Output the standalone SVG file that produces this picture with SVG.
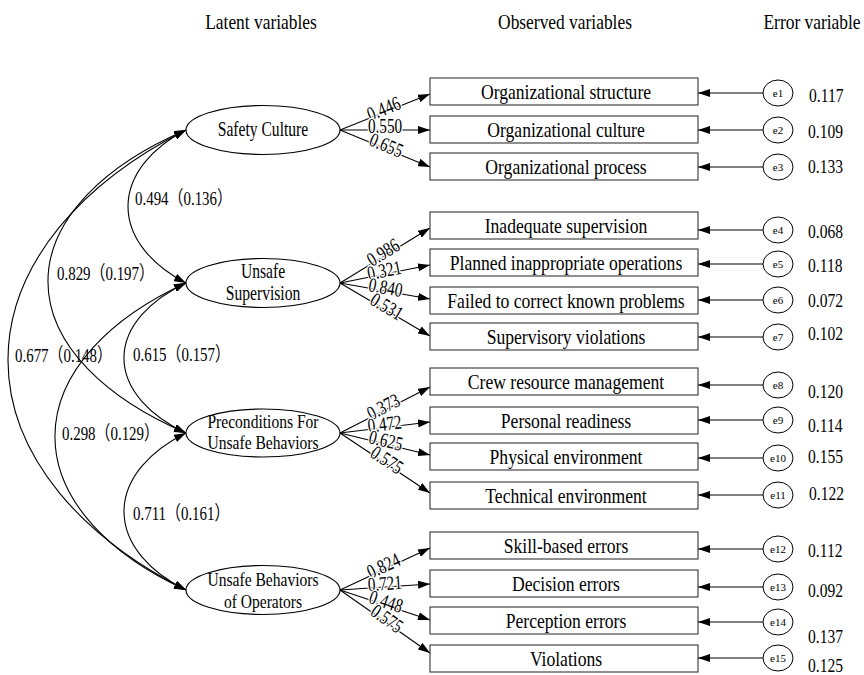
<svg xmlns="http://www.w3.org/2000/svg" width="864" height="675" viewBox="0 0 864 675">
<style>
text{font-family:"Liberation Serif","Times New Roman","Noto Sans CJK SC",serif;fill:#000}
.hd{font-size:21.5px;text-anchor:middle}
.bx{font-size:22px;text-anchor:middle}
.el{font-size:20px;text-anchor:middle}
.el2{font-size:19px;text-anchor:middle}
.ld{font-size:20px;text-anchor:middle;stroke:#fff;stroke-width:3;paint-order:stroke;stroke-linejoin:round}
.cv{font-size:19.5px}
.ev{font-size:19px}
.en{font-size:11px;text-anchor:middle}
.box{fill:#fff;stroke:#333;stroke-width:1.1}
.lat{fill:#fff;stroke:#000;stroke-width:1.1}
.err{fill:#fff;stroke:#000;stroke-width:1}
.c{fill:none;stroke:#000;stroke-width:1.1}
</style>
<defs>
<marker id="ah" viewBox="0 0 12 8" refX="12" refY="4" markerWidth="12" markerHeight="8" markerUnits="userSpaceOnUse" orient="auto-start-reverse"><path d="M0,0 L12,4 L0,8 z" fill="#000"/></marker>
</defs>
<g id="headers">
<text class="hd" transform="translate(261,29) scale(0.81,1)">Latent variables</text>
<text class="hd" transform="translate(565,29) scale(0.81,1)">Observed variables</text>
<text class="hd" transform="translate(812,29) scale(0.81,1)">Error variable</text>
</g>
<g id="connectors">
<path class="c" marker-start="url(#ah)" marker-end="url(#ah)" d="M186,130 A162.5,99.9 0 0 0 186,283"/>
<path class="c" marker-start="url(#ah)" marker-end="url(#ah)" d="M186,283 A173.7,97.9 0 0 0 186,433"/>
<path class="c" marker-start="url(#ah)" marker-end="url(#ah)" d="M186,433 A173.7,102.5 0 0 0 186,590"/>
<path class="c" marker-start="url(#ah)" marker-end="url(#ah)" d="M186,130 A386.6,197.8 0 0 0 186,433"/>
<path class="c" marker-start="url(#ah)" marker-end="url(#ah)" d="M186,283 A367,200.4 0 0 0 186,590"/>
<path class="c" marker-start="url(#ah)" marker-end="url(#ah)" d="M186,130 A498.6,300.3 0 0 0 186,590"/>
<g marker-end="url(#ah)">
<path class="c" d="M340,130 L430,94"/>
<path class="c" d="M340,130 L430,130"/>
<path class="c" d="M340,130 L430,167"/>
<path class="c" d="M340,283 L430,228"/>
<path class="c" d="M340,283 L430,265"/>
<path class="c" d="M340,283 L430,299"/>
<path class="c" d="M340,283 L430,336"/>
<path class="c" d="M340,433 L430,387"/>
<path class="c" d="M340,433 L430,422"/>
<path class="c" d="M340,433 L430,455"/>
<path class="c" d="M340,433 L430,493"/>
<path class="c" d="M340,590 L430,548"/>
<path class="c" d="M340,590 L430,584"/>
<path class="c" d="M340,590 L430,620"/>
<path class="c" d="M340,590 L430,653"/>
<path class="c" d="M763,93 L698,93"/>
<path class="c" d="M763,130 L698,130"/>
<path class="c" d="M763,167 L698,167"/>
<path class="c" d="M763,230 L698,230"/>
<path class="c" d="M763,264 L698,264"/>
<path class="c" d="M763,300 L698,300"/>
<path class="c" d="M763,337 L698,337"/>
<path class="c" d="M763,385 L698,385"/>
<path class="c" d="M763,420 L698,420"/>
<path class="c" d="M763,458 L698,458"/>
<path class="c" d="M763,495 L698,495"/>
<path class="c" d="M763,549 L698,549"/>
<path class="c" d="M763,587 L698,587"/>
<path class="c" d="M763,622 L698,622"/>
<path class="c" d="M763,658 L698,658"/>
</g>
<text class="ld" transform="translate(385,112) rotate(-21.8) scale(0.76,1)" y="3">0.446</text>
<text class="ld" transform="translate(385,130) scale(0.76,1)" y="3">0.550</text>
<text class="ld" transform="translate(385,148.5) rotate(22.3) scale(0.76,1)" y="3">0.655</text>
<text class="ld" transform="translate(385,255.5) rotate(-31.4) scale(0.76,1)" y="3">0.986</text>
<text class="ld" transform="translate(385,274) rotate(-11.3) scale(0.76,1)" y="3">0.321</text>
<text class="ld" transform="translate(385,291) rotate(10.1) scale(0.76,1)" y="3">0.840</text>
<text class="ld" transform="translate(385,309.5) rotate(30.5) scale(0.76,1)" y="3">0.531</text>
<text class="ld" transform="translate(385,410) rotate(-27.1) scale(0.76,1)" y="3">0.373</text>
<text class="ld" transform="translate(385,427.5) rotate(-7) scale(0.76,1)" y="3">0.472</text>
<text class="ld" transform="translate(385,444) rotate(13.7) scale(0.76,1)" y="3">0.625</text>
<text class="ld" transform="translate(385,463) rotate(33.7) scale(0.76,1)" y="3">0.575</text>
<text class="ld" transform="translate(385,569) rotate(-25) scale(0.76,1)" y="3">0.824</text>
<text class="ld" transform="translate(385,587) rotate(-3.8) scale(0.76,1)" y="3">0.721</text>
<text class="ld" transform="translate(385,605) rotate(18.4) scale(0.76,1)" y="3">0.448</text>
<text class="ld" transform="translate(385,621.5) rotate(35) scale(0.76,1)" y="3">0.575</text>
<text class="cv" transform="translate(135,204.5) scale(0.765,1)">0.494（0.136）</text>
<text class="cv" transform="translate(57,279.5) scale(0.765,1)">0.829（0.197）</text>
<text class="cv" transform="translate(15,361.5) scale(0.765,1)">0.677（0.148）</text>
<text class="cv" transform="translate(133,360.5) scale(0.765,1)">0.615（0.157）</text>
<text class="cv" transform="translate(62,439.5) scale(0.765,1)">0.298（0.129）</text>
<text class="cv" transform="translate(133,519.5) scale(0.765,1)">0.711（0.161）</text>
</g>
<g id="safety-culture">
<ellipse class="lat" cx="263" cy="130" rx="77" ry="24.5"/>
<text class="el" transform="translate(263,136) scale(0.78,1)">Safety Culture</text>
</g>
<g id="unsafe-supervision">
<ellipse class="lat" cx="263" cy="283" rx="77" ry="24.5"/>
<text class="el" transform="translate(263,278) scale(0.78,1)">Unsafe</text>
<text class="el" transform="translate(263,300) scale(0.78,1)">Supervision</text>
</g>
<g id="preconditions">
<ellipse class="lat" cx="263" cy="433" rx="77" ry="24"/>
<text class="el2" transform="translate(263,428) scale(0.82,1)">Preconditions For</text>
<text class="el2" transform="translate(263,449) scale(0.82,1)">Unsafe Behaviors</text>
</g>
<g id="unsafe-behaviors">
<ellipse class="lat" cx="263" cy="590" rx="77" ry="24.5"/>
<text class="el2" transform="translate(263,586) scale(0.82,1)">Unsafe Behaviors</text>
<text class="el2" transform="translate(263,608) scale(0.82,1)">of Operators</text>
</g>
<g id="obs1"><rect class="box" x="430" y="78" width="268" height="27"/><text class="bx" transform="translate(566,99) scale(0.8,1)">Organizational structure</text></g>
<g id="obs2"><rect class="box" x="430" y="116" width="268" height="27"/><text class="bx" transform="translate(566,137) scale(0.8,1)">Organizational culture</text></g>
<g id="obs3"><rect class="box" x="430" y="153" width="268" height="27"/><text class="bx" transform="translate(566,174) scale(0.8,1)">Organizational process</text></g>
<g id="obs4"><rect class="box" x="430" y="212" width="268" height="27"/><text class="bx" transform="translate(566,233) scale(0.8,1)">Inadequate supervision</text></g>
<g id="obs5"><rect class="box" x="430" y="249" width="268" height="27"/><text class="bx" transform="translate(566,270) scale(0.8,1)">Planned inappropriate operations</text></g>
<g id="obs6"><rect class="box" x="430" y="287" width="268" height="27"/><text class="bx" transform="translate(566,308) scale(0.8,1)">Failed to correct known problems</text></g>
<g id="obs7"><rect class="box" x="430" y="323" width="268" height="27"/><text class="bx" transform="translate(566,344) scale(0.8,1)">Supervisory violations</text></g>
<g id="obs8"><rect class="box" x="430" y="368" width="268" height="27"/><text class="bx" transform="translate(566,389) scale(0.8,1)">Crew resource management</text></g>
<g id="obs9"><rect class="box" x="430" y="407" width="268" height="27"/><text class="bx" transform="translate(566,428) scale(0.8,1)">Personal readiness</text></g>
<g id="obs10"><rect class="box" x="430" y="443" width="268" height="27"/><text class="bx" transform="translate(566,464) scale(0.8,1)">Physical environment</text></g>
<g id="obs11"><rect class="box" x="430" y="482" width="268" height="27"/><text class="bx" transform="translate(566,503) scale(0.8,1)">Technical environment</text></g>
<g id="obs12"><rect class="box" x="430" y="532" width="268" height="27"/><text class="bx" transform="translate(566,553) scale(0.8,1)">Skill-based errors</text></g>
<g id="obs13"><rect class="box" x="430" y="570" width="268" height="27"/><text class="bx" transform="translate(566,591) scale(0.8,1)">Decision errors</text></g>
<g id="obs14"><rect class="box" x="430" y="607" width="268" height="27"/><text class="bx" transform="translate(566,628) scale(0.8,1)">Perception errors</text></g>
<g id="obs15"><rect class="box" x="430" y="645" width="268" height="27"/><text class="bx" transform="translate(566,666) scale(0.8,1)">Violations</text></g>
<g id="e1"><ellipse class="err" cx="778" cy="93" rx="15" ry="13"/><text class="en" x="778" y="97">e1</text></g>
<g id="e2"><ellipse class="err" cx="778" cy="130" rx="15" ry="13"/><text class="en" x="778" y="134">e2</text></g>
<g id="e3"><ellipse class="err" cx="778" cy="167" rx="15" ry="13"/><text class="en" x="778" y="171">e3</text></g>
<g id="e4"><ellipse class="err" cx="778" cy="230" rx="15" ry="13"/><text class="en" x="778" y="234">e4</text></g>
<g id="e5"><ellipse class="err" cx="778" cy="264" rx="15" ry="13"/><text class="en" x="778" y="268">e5</text></g>
<g id="e6"><ellipse class="err" cx="778" cy="300" rx="15" ry="13"/><text class="en" x="778" y="304">e6</text></g>
<g id="e7"><ellipse class="err" cx="778" cy="337" rx="15" ry="13"/><text class="en" x="778" y="341">e7</text></g>
<g id="e8"><ellipse class="err" cx="778" cy="385" rx="15" ry="13"/><text class="en" x="778" y="389">e8</text></g>
<g id="e9"><ellipse class="err" cx="778" cy="420" rx="15" ry="13"/><text class="en" x="778" y="424">e9</text></g>
<g id="e10"><ellipse class="err" cx="778" cy="458" rx="15" ry="13"/><text class="en" x="778" y="462">e10</text></g>
<g id="e11"><ellipse class="err" cx="778" cy="495" rx="15" ry="13"/><text class="en" x="778" y="499">e11</text></g>
<g id="e12"><ellipse class="err" cx="778" cy="549" rx="15" ry="13"/><text class="en" x="778" y="553">e12</text></g>
<g id="e13"><ellipse class="err" cx="778" cy="587" rx="15" ry="13"/><text class="en" x="778" y="591">e13</text></g>
<g id="e14"><ellipse class="err" cx="778" cy="622" rx="15" ry="13"/><text class="en" x="778" y="626">e14</text></g>
<g id="e15"><ellipse class="err" cx="778" cy="658" rx="15" ry="13"/><text class="en" x="778" y="662">e15</text></g>
<g id="error-values">
<text class="ev" transform="translate(809,101.5) scale(0.82,1)">0.117</text>
<text class="ev" transform="translate(808,138) scale(0.82,1)">0.109</text>
<text class="ev" transform="translate(808,173) scale(0.82,1)">0.133</text>
<text class="ev" transform="translate(808,238) scale(0.82,1)">0.068</text>
<text class="ev" transform="translate(808,271.5) scale(0.82,1)">0.118</text>
<text class="ev" transform="translate(808,306.5) scale(0.82,1)">0.072</text>
<text class="ev" transform="translate(808,339.5) scale(0.82,1)">0.102</text>
<text class="ev" transform="translate(808,398) scale(0.82,1)">0.120</text>
<text class="ev" transform="translate(808,431.5) scale(0.82,1)">0.114</text>
<text class="ev" transform="translate(808,463) scale(0.82,1)">0.155</text>
<text class="ev" transform="translate(809,499.5) scale(0.82,1)">0.122</text>
<text class="ev" transform="translate(808,556.5) scale(0.82,1)">0.112</text>
<text class="ev" transform="translate(808,596.5) scale(0.82,1)">0.092</text>
<text class="ev" transform="translate(808,643) scale(0.82,1)">0.137</text>
<text class="ev" transform="translate(808,672) scale(0.82,1)">0.125</text>
</g>
</svg>
